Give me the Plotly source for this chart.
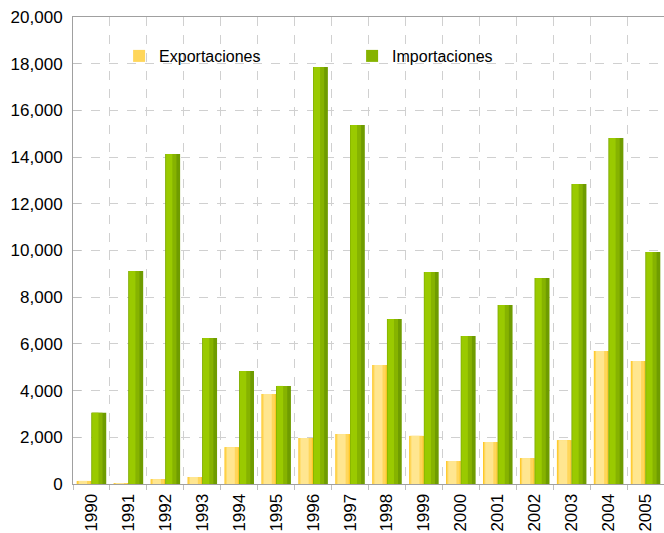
import plotly.graph_objects as go

years = ["1990", "1991", "1992", "1993", "1994", "1995", "1996", "1997",
         "1998", "1999", "2000", "2001", "2002", "2003", "2004", "2005"]
exportaciones = [130, 20, 210, 300, 1580, 3850, 1970, 2140,
                 5100, 2060, 985, 1800, 1110, 1880, 5700, 5270]
importaciones = [3050, 9120, 14130, 6250, 4840, 4200, 17860, 15370,
                 7070, 9080, 6340, 7670, 8820, 12850, 14820, 9940]

# layered shades (offset, width, colour) to imitate the gradient fill
exp_layers = [(-0.40, 0.40, "#FFC825"), (-0.375, 0.34, "#FFD65A"), (-0.34, 0.22, "#FFE690")]
imp_layers = [(0.0, 0.40, "#6F9C00"), (0.0, 0.30, "#86B300"), (0.02, 0.17, "#9ACA00")]

fig = go.Figure()
for i, (off, w, col) in enumerate(exp_layers):
    fig.add_trace(go.Bar(x=years, y=exportaciones, name="Exportaciones",
                         offset=off, width=w, opacity=1,
                         showlegend=(i == 1), legendgroup="exp", hoverinfo="skip" if i else None,
                         marker=dict(color=col, line=dict(width=0))))
for i, (off, w, col) in enumerate(imp_layers):
    fig.add_trace(go.Bar(x=years, y=importaciones, name="Importaciones",
                         offset=off, width=w, opacity=1,
                         showlegend=(i == 1), legendgroup="imp", hoverinfo="skip" if i else None,
                         marker=dict(color=col, line=dict(width=0))))

fig.update_layout(
    width=664, height=533,
    margin=dict(l=73, r=0, t=17, b=49, autoexpand=False),
    paper_bgcolor="white", plot_bgcolor="white",
    font=dict(family="Liberation Sans, Arial, sans-serif", size=16, color="#000"),
    barmode="overlay",
    showlegend=True,
    legend=dict(orientation="h", x=0.078, y=0.9165, xanchor="left", yanchor="middle",
                entrywidth=188, bgcolor="rgba(0,0,0,0)", font=dict(size=16)),
    xaxis=dict(type="category", tickson="boundaries", showgrid=True,
               gridcolor="#d0d0d0", griddash="dash", gridwidth=1,
               showline=True, linecolor="#a0a0a0", linewidth=1, mirror=True,
               ticks="outside", ticklen=5, tickcolor="#c0c0c0",
               ticklabelstandoff=2,
               tickangle=-90, tickfont=dict(size=17), automargin=False),
    yaxis=dict(range=[0, 20000], tickvals=[0, 2000, 4000, 6000, 8000, 10000, 12000,
                                           14000, 16000, 18000, 20000],
               tickformat=",", showgrid=True, gridcolor="#d0d0d0", griddash="dash",
               showline=True, linecolor="#a0a0a0", linewidth=1,
               ticks="inside", ticklen=8, tickcolor="#c0c0c0",
               ticklabelstandoff=6,
               zeroline=False, tickfont=dict(size=17), automargin=False),
)

fig.write_html("out.html", config={"displayModeBar": False},
               post_script="document.body.style.margin='0';document.body.style.overflow='hidden';")
